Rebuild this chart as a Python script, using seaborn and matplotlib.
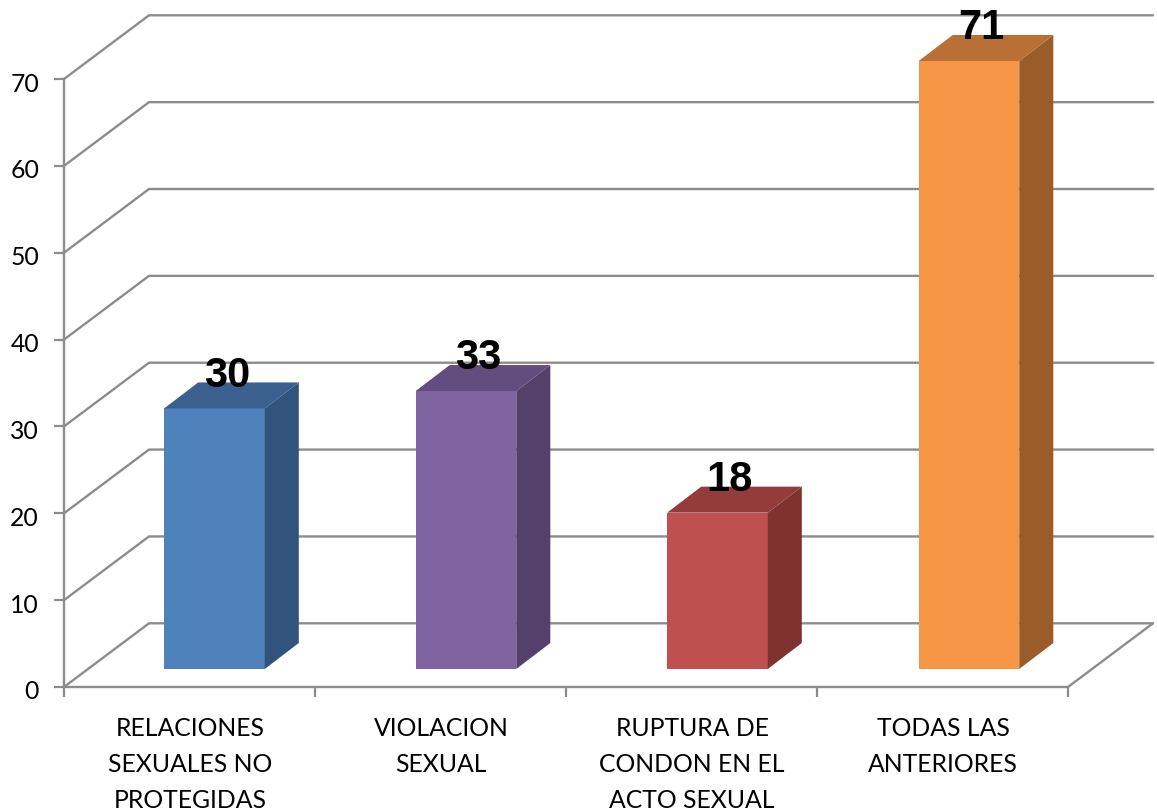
import matplotlib
matplotlib.use("Agg")
import matplotlib.pyplot as plt
from matplotlib.patches import Polygon
from matplotlib.transforms import ScaledTranslation
import seaborn as sns
import pandas as pd

categories = ["RELACIONES\nSEXUALES NO\nPROTEGIDAS", "VIOLACION\nSEXUAL",
              "RUPTURA DE\nCONDON EN EL\nACTO SEXUAL", "TODAS LAS\nANTERIORES"]
labels = [30, 33, 18, 71]
heights = [30, 32, 18, 70]
front_colors = ["#4F81BD", "#8064A2", "#C0504D", "#F79646"]
top_colors = ["#3A6090", "#634C7E", "#943C3A", "#BA7034"]
side_colors = ["#32547C", "#54406A", "#7F3230", "#9A5D2A"]
yticks = list(range(0, 80, 10))

W, H = 1157, 812
AX_L, AX_R, Y0, Y70 = 64, 1068, 688, 80
GRID = "#8C8C8C"

sns.set_theme(style="white")
plt.rcParams["font.family"] = ["Lato", "DejaVu Sans"]
fig = plt.figure(figsize=(W / 100, H / 100), dpi=100, facecolor="white")


def pos(l, r, bottom, top):
    return [l / W, 1 - bottom / H, (r - l) / W, (bottom - top) / H]


ax = fig.add_axes(pos(AX_L, AX_R, Y0, Y70))
ax.set_xlim(-0.5, 3.5)
ax.set_ylim(0, 70)
ax.patch.set_alpha(0)

# wall depth in data units
wx = 85 / 251
wy = 63.7 / ((Y0 - Y70) / 70)

# back wall and side wall lines
for t in yticks:
    ax.plot([-0.5, -0.5 + wx, 3.5 + wx], [t, t + wy, t + wy], color=GRID, lw=1.7, clip_on=False, zorder=1, solid_joinstyle="miter")
ax.plot([3.5, 3.5 + wx], [0, wy], color=GRID, lw=1.7, clip_on=False, zorder=1)

ax.set_xticks([-0.5, 0.5, 1.5, 2.5, 3.5])
ax.set_xticklabels([])
ax.set_yticks(yticks)
ax.set_yticklabels([str(t) for t in yticks], fontsize=17.8, color="black")
ax.tick_params(axis="both", length=7, width=1.6, color=GRID, pad=11, direction="out", left=True, bottom=True)
down = ScaledTranslation(0, -2 / 100, fig.dpi_scale_trans)
for lab in ax.get_yticklabels():
    lab.set_transform(lab.get_transform() + down)
for s in ("top", "right"):
    ax.spines[s].set_visible(False)
for s in ("left", "bottom"):
    ax.spines[s].set_color(GRID)
    ax.spines[s].set_linewidth(1.7)

for i, c in enumerate(categories):
    ax.text(i + 0.002, -3.3, c, ha="center", va="top", fontsize=17.8, color="black", linespacing=1.68, clip_on=False)

# bars live on an overlaid axes shifted to the plane in the middle of the floor
oy = 18
bx = fig.add_axes(pos(AX_L + 24.7, AX_R + 26.7, Y0 - oy, Y70 - oy))
bx.patch.set_alpha(0)
df = pd.DataFrame({"categoria": categories, "valor": heights})
sns.barplot(data=df, x="categoria", y="valor", hue="categoria", palette=front_colors,
            width=0.4, legend=False, ax=bx, saturation=1, edgecolor="none", zorder=3)
bx.set_xlim(-0.5, 3.5)
bx.set_ylim(0, 70)
bx.axis("off")

dx = 34 / 251
dy = 26 / ((Y0 - Y70) / 70)
for patch, h, lab, tc, sc in zip(bx.patches, heights, labels, top_colors, side_colors):
    x0 = patch.get_x()
    x1 = x0 + patch.get_width()
    bx.add_patch(Polygon([(x1, 0), (x1 + dx, dy), (x1 + dx, h + dy), (x1, h)], closed=True,
                         facecolor=sc, edgecolor="none", clip_on=False, zorder=3))
    bx.add_patch(Polygon([(x0, h), (x0 + dx, h + dy), (x1 + dx, h + dy), (x1, h)], closed=True,
                         facecolor=tc, edgecolor="none", clip_on=False, zorder=3))
    bx.text((x0 + x1) / 2 + 0.05, h + 3.9, str(lab), ha="center", va="center", fontsize=30,
            fontweight="bold", family=["Liberation Sans", "DejaVu Sans"], color="black", clip_on=False, zorder=5)

fig.savefig("out.png", dpi=100, facecolor="white")
